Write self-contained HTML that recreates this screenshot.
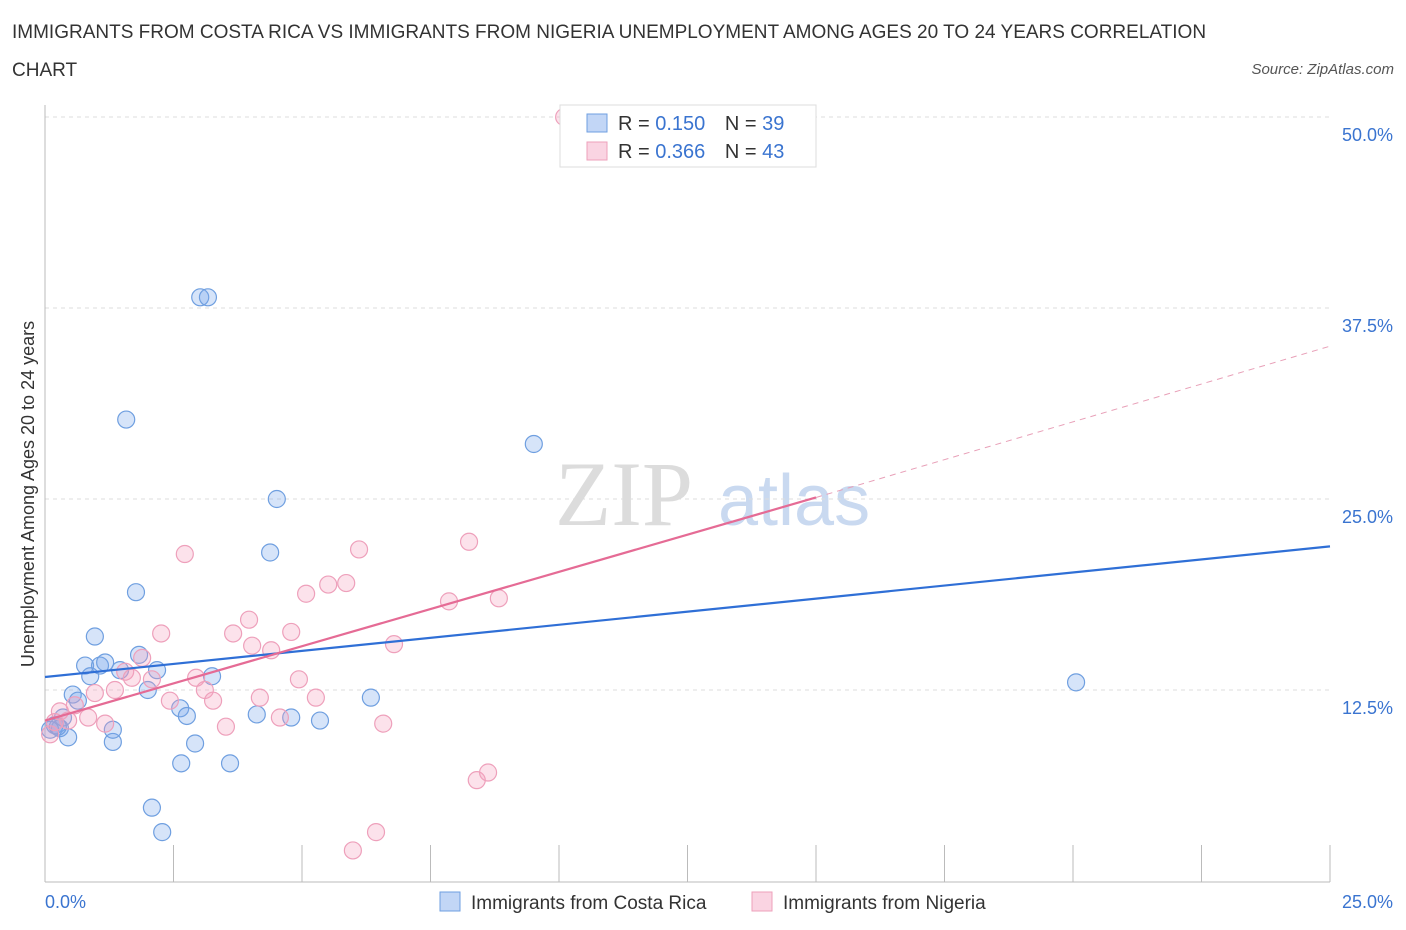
<!DOCTYPE html>
<html><head><meta charset="utf-8"><style>
body{margin:0;background:#fff;font-family:"Liberation Sans",sans-serif;}
#wrap{position:relative;width:1406px;height:930px;overflow:hidden;}
.title{position:absolute;left:12px;top:14px;font-size:19px;color:#333;line-height:38px;width:1195px;}
.src{position:absolute;right:12px;top:61px;font-size:15px;color:#555;font-style:italic;}
</style></head><body>
<div id="wrap">
<div class="title">IMMIGRANTS FROM COSTA RICA VS IMMIGRANTS FROM NIGERIA UNEMPLOYMENT AMONG AGES 20 TO 24 YEARS CORRELATION CHART</div>
<div class="src">Source: ZipAtlas.com</div>
<svg id="chart" width="1406" height="930" style="position:absolute;left:0;top:0"></svg>
</div>
<script>
const blueX=[0.19,0.29,0.35,0.45,0.54,0.64,0.78,0.88,0.97,1.07,1.17,1.32,1.32,1.46,1.58,1.77,1.83,2.00,2.08,2.18,2.28,2.63,2.65,2.76,2.92,3.02,3.17,3.25,3.60,4.12,4.38,4.51,4.79,5.35,6.34,9.51,20.06,0.10,0.25];
const blueY=[10.2,10.0,10.7,9.4,12.2,11.8,14.1,13.4,16.0,14.1,14.3,9.1,9.9,13.8,30.2,18.9,14.8,12.5,4.8,13.8,3.2,11.3,7.7,10.8,9.0,38.2,38.2,13.4,7.7,10.9,21.5,25.0,10.7,10.5,12.0,28.6,13.0,9.9,10.1];
const pinkX=[0.10,0.19,0.29,0.45,0.58,0.84,0.97,1.17,1.36,1.56,1.69,1.89,2.08,2.26,2.43,2.72,2.94,3.11,3.27,3.52,3.66,3.97,4.03,4.18,4.40,4.57,4.79,4.94,5.08,5.27,5.51,5.86,5.99,6.11,6.44,6.58,6.79,7.86,8.25,8.40,8.62,8.83,10.10];
const pinkY=[9.6,10.4,11.1,10.5,11.5,10.7,12.3,10.3,12.5,13.7,13.3,14.6,13.2,16.2,11.8,21.4,13.3,12.5,11.8,10.1,16.2,17.1,15.4,12.0,15.1,10.7,16.3,13.2,18.8,12.0,19.4,19.5,2.0,21.7,3.2,10.3,15.5,18.3,22.2,6.6,7.1,18.5,50.0];
const blueTrend=[[0,13.35],[25,21.9]];
const pinkTrendSolid=[[0,10.5],[15,25.1]];
const pinkTrendDash=[[15,25.1],[25,35.0]];
const yTicks=[12.5,25.0,37.5,50.0];
const yTickLabels=["12.5%","25.0%","37.5%","50.0%"];
const xTicks=[0,2.5,5,7.5,10,12.5,15,17.5,20,22.5,25];

const X=v=>45+v*(1330-45)/25;
const Y=v=>881-v*(191/12.5);
const svg=document.getElementById('chart');
const NS='http://www.w3.org/2000/svg';
function mk(tag,attrs){const e=document.createElementNS(NS,tag);for(const k in attrs)e.setAttribute(k,attrs[k]);svg.appendChild(e);return e;}

let wm=mk('text',{x:555,y:525,'font-size':92,'font-family':'Liberation Serif',fill:'#dcdcdc'});wm.textContent='ZIP';


let wm2=mk('text',{x:718,y:525,'font-size':72,fill:'#c9d9f0'});wm2.textContent='atlas';



yTicks.forEach((t,i)=>{
 const g=mk('line',{x1:45,x2:1330,y1:Y(t),y2:Y(t),stroke:'#ddd','stroke-dasharray':'4,4'});
 
 
 const l=mk('text',{x:1393,y:Y(t)+24,'text-anchor':'end','font-size':18,fill:'#3a74d0'});l.textContent=yTickLabels[i];
 
 
});
const ax=mk('line',{x1:45,x2:45,y1:105,y2:882,stroke:'#bbb'});


const bx=mk('line',{x1:45,x2:1330,y1:882,y2:882,stroke:'#bbb'});


xTicks.forEach(t=>{
 const k=mk('line',{x1:X(t),x2:X(t),y1:845,y2:882,stroke:'#bbb'});
 
 
});
let xl=mk('text',{x:45,y:908,'font-size':18,fill:'#3a74d0'});xl.textContent='0.0%';


let xr=mk('text',{x:1393,y:908,'text-anchor':'end','font-size':18,fill:'#3a74d0'});xr.textContent='25.0%';


let yt=mk('text',{x:34,y:494,'font-size':18,fill:'#333','text-anchor':'middle',transform:'rotate(-90 34 494)'});yt.textContent='Unemployment Among Ages 20 to 24 years';



blueX.forEach((v,i)=>{
 const c=mk('circle',{cx:X(v),cy:Y(blueY[i]),r:8.5,fill:'rgba(120,165,235,0.3)',stroke:'#6f9fe0','stroke-width':1.2});
 
 
});
pinkX.forEach((v,i)=>{
 const c=mk('circle',{cx:X(v),cy:Y(pinkY[i]),r:8.5,fill:'rgba(245,160,190,0.3)',stroke:'#eea0bb','stroke-width':1.2});
 
 
});
let bl=mk('line',{x1:X(blueTrend[0][0]),y1:Y(blueTrend[0][1]),x2:X(blueTrend[1][0]),y2:Y(blueTrend[1][1]),stroke:'#2f6fd6','stroke-width':2.2});


let pl=mk('line',{x1:X(pinkTrendSolid[0][0]),y1:Y(pinkTrendSolid[0][1]),x2:X(pinkTrendSolid[1][0]),y2:Y(pinkTrendSolid[1][1]),stroke:'#e56b95','stroke-width':2.2});


let pd=mk('line',{x1:X(pinkTrendDash[0][0]),y1:Y(pinkTrendDash[0][1]),x2:X(pinkTrendDash[1][0]),y2:Y(pinkTrendDash[1][1]),stroke:'#e8a0b8','stroke-width':1,'stroke-dasharray':'6,5'});



let lb=mk('rect',{x:560,y:105,width:256,height:62,fill:'#fff',stroke:'#ddd'});


[[0,'rgba(120,165,235,0.45)','#6f9fe0','0.150','39'],[1,'rgba(245,160,190,0.45)','#eea0bb','0.366','43']].forEach(r=>{
 const y=114+r[0]*28;
 const s=mk('rect',{x:587,y:y,width:20,height:18,fill:r[1],stroke:r[2]});
 
 
 const t=mk('text',{x:618,y:y+16,'font-size':20,fill:'#333'});
 t.innerHTML='R = <tspan fill="#3a74d0">'+r[3]+'</tspan>  <tspan dx="14">N = </tspan><tspan fill="#3a74d0">'+r[4]+'</tspan>';
 
 
});
[[440,'rgba(120,165,235,0.45)','#6f9fe0','Immigrants from Costa Rica','legend-costa-rica'],[752,'rgba(245,160,190,0.45)','#eea0bb','Immigrants from Nigeria','legend-nigeria']].forEach(r=>{
 const s=mk('rect',{x:r[0],y:892,width:20,height:19,fill:r[1],stroke:r[2]});
 
 
 const t=mk('text',{x:r[0]+31,y:909,'font-size':19,fill:'#333'});t.textContent=r[3];
 
 
});
</script>
</body></html>
